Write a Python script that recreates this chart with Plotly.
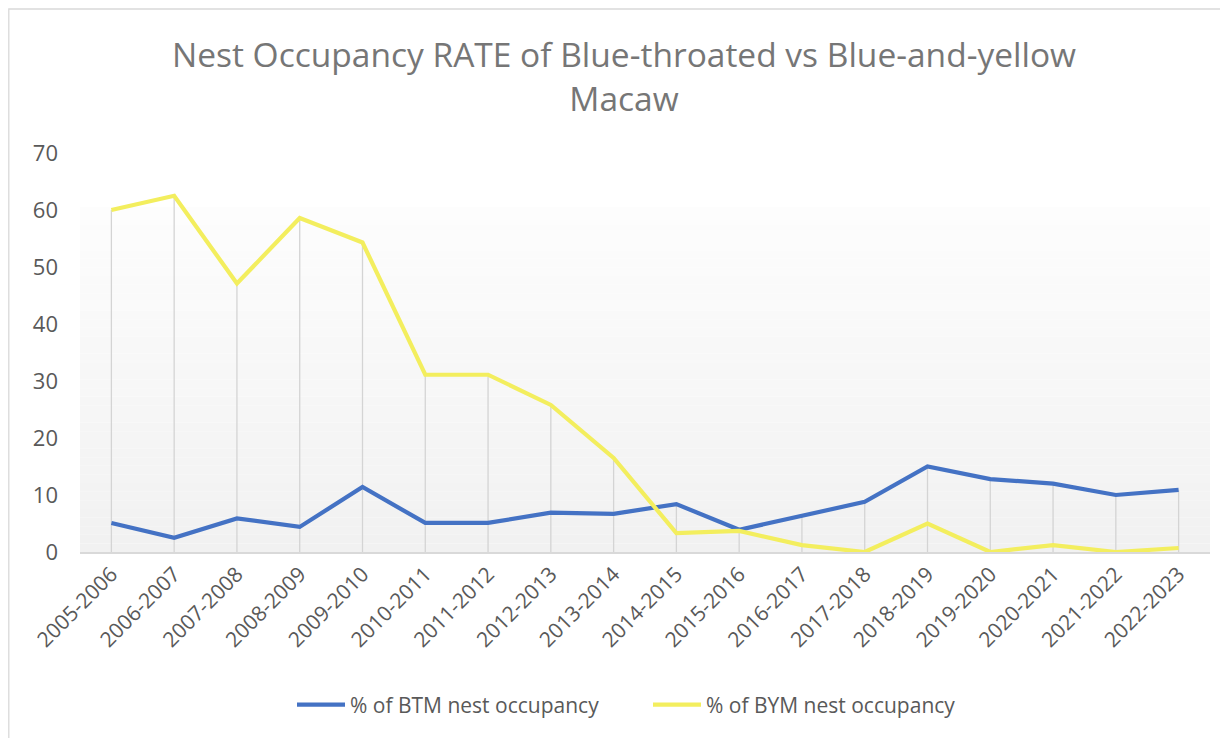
import plotly.graph_objects as go

seasons = ["2005-2006", "2006-2007", "2007-2008", "2008-2009", "2009-2010",
           "2010-2011", "2011-2012", "2012-2013", "2013-2014", "2014-2015",
           "2015-2016", "2016-2017", "2017-2018", "2018-2019", "2019-2020",
           "2020-2021", "2021-2022", "2022-2023"]
btm = [5.1, 2.5, 5.9, 4.4, 11.4, 5.1, 5.1, 6.9, 6.7, 8.4,
       3.9, 6.3, 8.8, 15.0, 12.8, 12.0, 10.0, 10.9]
bym = [60.0, 62.5, 47.1, 58.6, 54.3, 31.1, 31.1, 25.8, 16.5, 3.3,
       3.7, 1.2, 0.0, 5.0, 0.0, 1.2, 0.0, 0.7]
yticks = [0, 10, 20, 30, 40, 50, 60, 70]

TEXT = "#595959"
FONT = "Open Sans"

# page offset (body margin) compensation
OFF = 8
W, H = 1228 - OFF, 738 - OFF
# plot area in page pixels, converted to figure pixels
L, R, T, B = 80 - OFF, 1210 - OFF, 153 - OFF, 552 - OFF
pw, ph = R - L, B - T

fig = go.Figure()

# drop lines from highest point of each category down to the axis
dx, dy = [], []
for s, a, b in zip(seasons, btm, bym):
    dx += [s, s, None]
    dy += [0, max(a, b), None]
fig.add_trace(go.Scatter(x=dx, y=dy, mode="lines", line=dict(color="#D4D4D4", width=1.3),
                         hoverinfo="skip", showlegend=False))

fig.add_trace(go.Scatter(x=seasons, y=btm, mode="lines", name="% of BTM nest occupancy",
                         line=dict(color="#4472C4", width=4.2)))
fig.add_trace(go.Scatter(x=seasons, y=bym, mode="lines", name="% of BYM nest occupancy",
                         line=dict(color="#F3EE5E", width=4.2)))

shapes = []
# vertical gradient background of plot area
g_top = (B - (207 - OFF)) / ph
n = 40
c0, c1 = 253, 241
for i in range(n):
    y0 = g_top * i / n
    y1 = g_top * (i + 1) / n
    c = round(c1 + (c0 - c1) * (i + 0.5) / n)
    shapes.append(dict(type="rect", xref="paper", yref="paper", x0=0, x1=1, y0=y0, y1=y1,
                       fillcolor=f"rgb({c},{c},{c})", line=dict(width=0), layer="below"))
# chart border
shapes.append(dict(type="rect", xref="paper", yref="paper",
                   x0=(0.8 - L) / pw, x1=(W + 10 - L) / pw,
                   y0=(B - (H + 10)) / ph, y1=(B - (9 - OFF)) / ph,
                   line=dict(color="#D9D9D9", width=1.3), fillcolor="rgba(0,0,0,0)",
                   layer="below"))

fig.update_layout(
    width=W, height=H,
    margin=dict(l=L, r=W - R, t=T, b=H - B, autoexpand=False),
    paper_bgcolor="white", plot_bgcolor="rgba(0,0,0,0)",
    font=dict(family=FONT, color=TEXT),
    title=dict(text="Nest Occupancy RATE of Blue-throated vs Blue-and-yellow<br>Macaw",
               font=dict(size=33.5, color="#767676", family=FONT),
               x=(624 - OFF) / W, xanchor="center", xref="container",
               y=1 - (67 - OFF) / H, yanchor="middle", yref="container"),
    shapes=shapes,
    showlegend=True,
    legend=dict(orientation="h", x=(648 - OFF - L) / pw, xanchor="center",
                y=(B - (705 - OFF)) / ph, yanchor="middle", yref="paper",
                font=dict(size=21, color=TEXT, family=FONT),
                itemwidth=48, entrywidth=293, bgcolor="rgba(0,0,0,0)"),
    hovermode=False,
)
fig.update_xaxes(type="category", categoryorder="array", categoryarray=seasons,
                 range=[-0.5, len(seasons) - 0.5], automargin=False,
                 showgrid=False, showline=True, linecolor="#D9D9D9", linewidth=1.5,
                 ticks="", tickangle=-45, tickfont=dict(size=21, color=TEXT),
                 zeroline=False)
fig.update_yaxes(range=[0, 70], tickvals=yticks, showgrid=False, showline=False,
                 automargin=False,
                 zeroline=False, ticks="", tickfont=dict(size=22, color=TEXT),
                 ticklabelstandoff=21)

fig.write_html("out.html")
